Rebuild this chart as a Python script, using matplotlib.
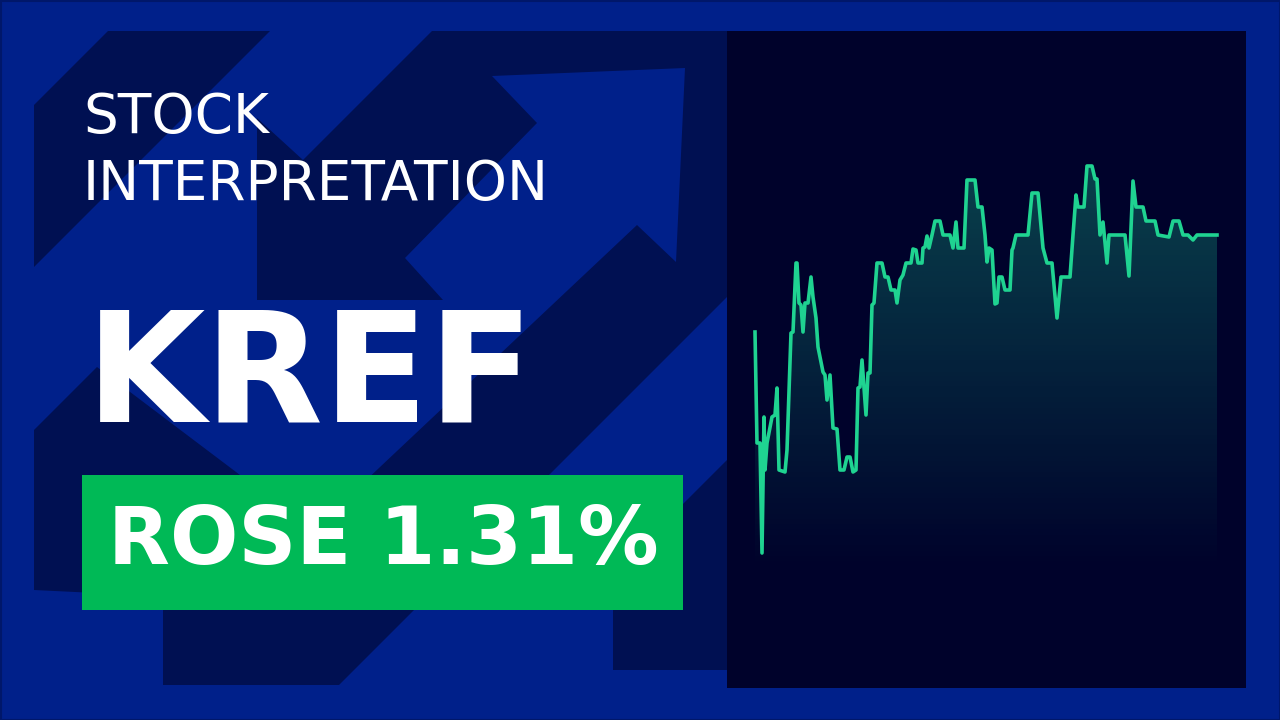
import numpy as np
import matplotlib
matplotlib.use("Agg")
from matplotlib import pyplot as plt
from matplotlib.patches import Polygon, Rectangle
from matplotlib.colors import LinearSegmentedColormap

# intraday price trace (minutes since open, price)
minute = [0, 2, 5, 7, 9, 10, 12, 17, 20, 22, 24, 30, 32, 36, 38, 41, 42, 44, 46, 48,
          50, 53, 56, 58, 61, 63, 68, 70, 72, 75, 78, 82, 85, 89, 92, 95, 98, 101, 103, 105,
          107, 109, 111, 113, 115, 117, 119, 122, 127, 130, 133, 136, 140, 142, 145, 148, 151, 156, 158, 161,
          163, 167, 168, 170, 172, 174, 177, 180, 185, 188, 195, 198, 201, 203, 209, 212, 220, 223, 227, 230,
          232, 234, 237, 240, 242, 244, 247, 250, 255, 257, 258, 261, 273, 277, 283, 288, 292, 297, 302, 306,
          315, 318, 321, 323, 329, 332, 337, 340, 342, 345, 348, 352, 354, 370, 374, 378, 381, 388, 391, 400,
          403, 414, 418, 424, 428, 433, 438, 442, 462]
price = [10.940, 10.718, 10.718, 10.498, 10.770, 10.664, 10.718, 10.770, 10.774, 10.828,
         10.664, 10.660, 10.704, 10.938, 10.940, 11.078, 11.078, 10.998, 10.994, 10.940,
         10.998, 10.998, 11.050, 11.010, 10.968, 10.910, 10.860, 10.854, 10.804, 10.854,
         10.748, 10.746, 10.664, 10.664, 10.690, 10.690, 10.660, 10.664, 10.828, 10.830,
         10.884, 10.830, 10.774, 10.858, 10.858, 10.994, 10.998, 11.078, 11.078, 11.050,
         11.050, 11.024, 11.024, 10.998, 11.044, 11.054, 11.078, 11.078, 11.106, 11.104,
         11.078, 11.078, 11.108, 11.110, 11.132, 11.108, 11.134, 11.162, 11.162, 11.134,
         11.134, 11.108, 11.160, 11.108, 11.108, 11.244, 11.244, 11.190, 11.190, 11.134,
         11.080, 11.108, 11.104, 10.996, 10.998, 11.050, 11.050, 11.024, 11.024, 11.104,
         11.108, 11.134, 11.134, 11.218, 11.218, 11.108, 11.078, 11.078, 10.968, 11.050,
         11.050, 11.134, 11.214, 11.190, 11.190, 11.272, 11.272, 11.246, 11.246, 11.134,
         11.160, 11.078, 11.134, 11.134, 11.052, 11.242, 11.190, 11.190, 11.162, 11.162,
         11.134, 11.130, 11.162, 11.162, 11.134, 11.134, 11.124, 11.134, 11.134]

ticker = "KREF"
headline = ["STOCK", "INTERPRETATION"]
change_label = "ROSE 1.31%"

BRIGHT = "#00208a"
DARK = "#001052"
PANEL = "#00022b"
LINE = "#1fd391"
BOX = "#00b956"

fig = plt.figure(figsize=(12.8, 7.2), dpi=100)
fig.patch.set_facecolor(BRIGHT)

# background with the arrow decoration, pixel coords
bg = fig.add_axes([0, 0, 1, 1])
bg.set_xlim(0, 1280)
bg.set_ylim(720, 0)
bg.axis("off")

dark_shapes = [
    [(108, 31), (270, 31), (34, 267), (34, 105)],
    [(257, 118), (303, 160), (432, 31), (727, 31), (727, 297), (339, 685),
     (163, 685), (163, 610), (300, 475), (257, 300)],
    [(727, 460), (613, 574), (613, 670), (727, 670)],
]
for pts in dark_shapes:
    bg.add_patch(Polygon(pts, closed=True, fc=DARK, ec="none"))

# bright arrow on top of the dark field
arrow = [(492, 76), (685, 68), (676, 262), (637, 225), (345, 500), (250, 600),
         (240, 475), (257, 300), (443, 300), (405, 258), (537, 123)]
bg.add_patch(Polygon(arrow, closed=True, fc=BRIGHT, ec="none"))
bg.add_patch(Polygon([(34, 430), (97, 367), (240, 475), (240, 600), (34, 590)],
                     closed=True, fc=DARK, ec="none"))

# thin outer frame
bg.add_patch(Rectangle((0.5, 0.5), 1279, 719, fc="none", ec="#00176a", lw=1.5))

# headline text
bg.text(83, 133, headline[0], color="white", fontsize=39.5, family="DejaVu Sans", va="baseline")
bg.text(83, 200, headline[1], color="white", fontsize=39.5, family="DejaVu Sans", va="baseline")
bg.text(86, 421, ticker, color="white", fontsize=111, fontweight="bold",
        family="DejaVu Sans", va="baseline")

bg.add_patch(Rectangle((82, 475), 601, 135, fc=BOX, ec="none"))
bg.text(383, 542, change_label, color="white", fontsize=58, fontweight="bold",
        family="DejaVu Sans", ha="center", va="center")

# chart panel
ax = fig.add_axes([727 / 1280, (720 - 688) / 720, (1246 - 727) / 1280, (688 - 31) / 720])
ax.set_facecolor(PANEL)
ax.set_xlim(-28, 491)
ax.set_ylim(10.228, 11.542)
for s in ax.spines.values():
    s.set_visible(False)
ax.set_xticks([])
ax.set_yticks([])

t = np.array(minute)
p = np.array(price)
base = 10.228
fill = ax.fill_between(t, p, base, color="none", lw=0)

cmap = LinearSegmentedColormap.from_list(
    "fade", [(0.12, 0.83, 0.6, 0.0), (0.12, 0.83, 0.6, 0.30)])
grad = np.linspace(0, 1, 256).reshape(-1, 1)
grad = np.clip((grad - 0.22) / 0.78, 0, 1)
img = ax.imshow(grad, cmap=cmap, aspect="auto", origin="lower",
                extent=[t.min(), t.max(), base, p.max()], zorder=1)
img.set_clip_path(fill.get_paths()[0], transform=ax.transData)

ax.plot(t, p, color=LINE, lw=2.6, zorder=3, solid_joinstyle="round")

fig.savefig("out.png", dpi=100, facecolor=fig.get_facecolor())
